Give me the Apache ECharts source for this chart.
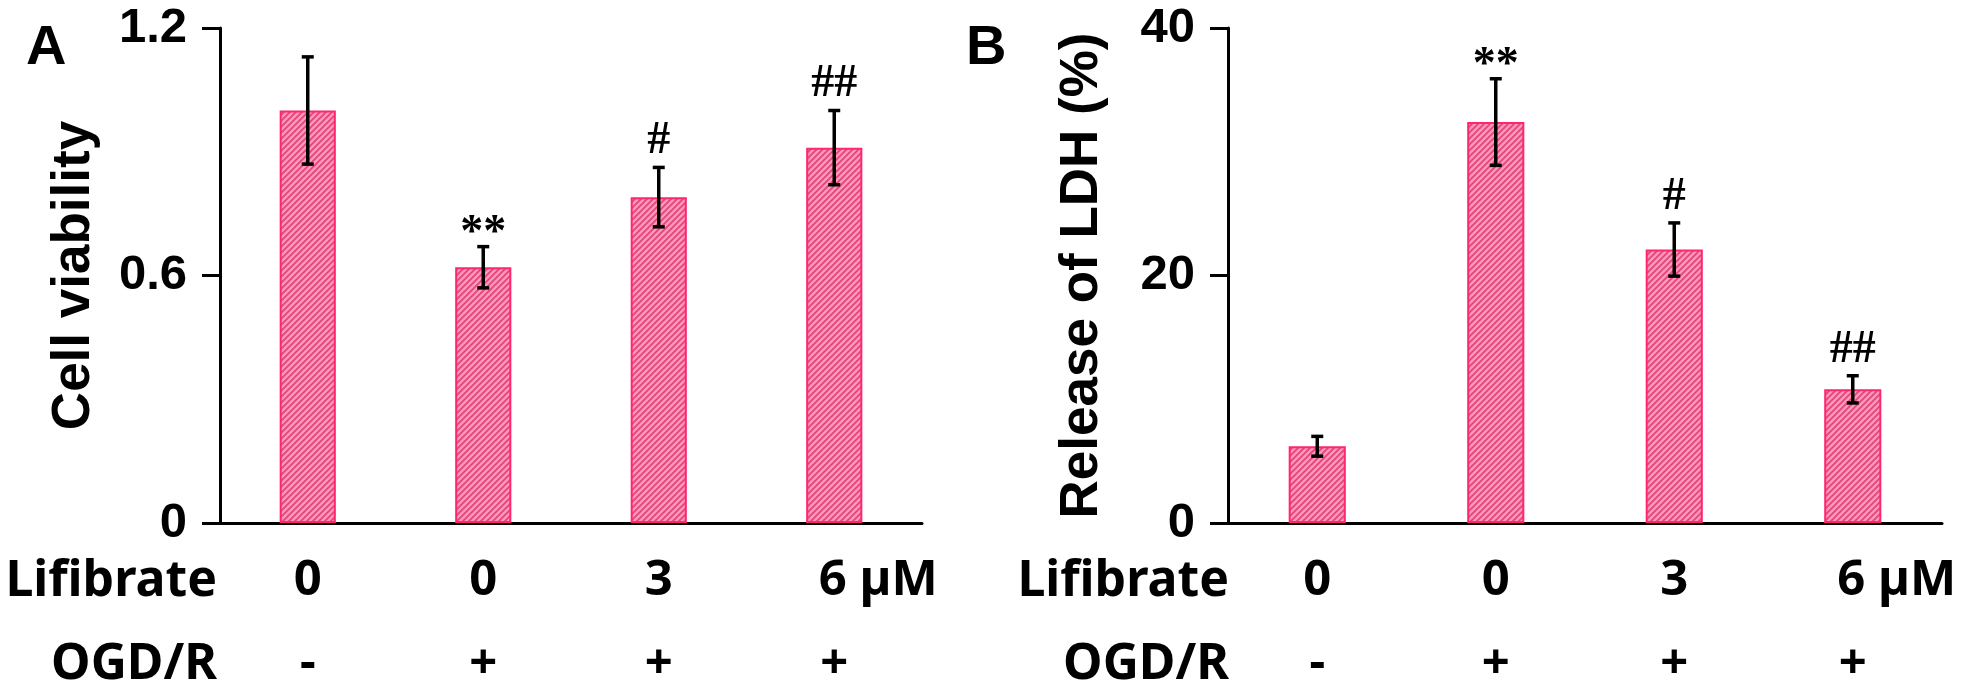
<!DOCTYPE html>
<html><head><meta charset="utf-8">
<script src="https://cdn.jsdelivr.net/npm/echarts@6/dist/echarts.min.js"></script>
<style>html,body{margin:0;padding:0;background:#fff}#c{width:1965px;height:700px}</style>
</head><body><div id="c"></div>
<script>
// ---- data ----
const lifibrate = ['0', '0', '3', '6 µM'];
const ogdr = ['-', '+', '+', '+'];
const viabilityMean = [1.00, 0.62, 0.79, 0.91];
const viabilitySD = [0.13, 0.05, 0.072, 0.09];
const viabilitySig = ['', '**', '#', '##'];
const ldhMean = [6.2, 32.4, 22.1, 10.8];
const ldhSD = [0.8, 3.5, 2.15, 1.1];
const ldhSig = ['', '**', '#', '##'];
const viabilityAxis = { min: 0, max: 1.2, interval: 0.6 };
const ldhAxis = { min: 0, max: 40, interval: 20 };

// ---- style helpers ----
function makePattern() {
  const s = 6, c = document.createElement('canvas');
  c.width = s; c.height = s;
  const g = c.getContext('2d');
  g.fillStyle = '#f79bb8'; g.fillRect(0, 0, s, s);
  g.strokeStyle = '#e8417a'; g.lineWidth = 1.7;
  g.beginPath();
  g.moveTo(0, s); g.lineTo(s, 0);
  g.moveTo(-s / 2, s / 2); g.lineTo(s / 2, -s / 2);
  g.moveTo(s / 2, s * 1.5); g.lineTo(s * 1.5, s / 2);
  g.stroke();
  return c;
}
const pattern = { image: makePattern(), repeat: 'repeat' };
const BLACK = '#000';
const labelFont = 'Noto Sans';
const sansFont = 'Liberation Sans';

function errRender(sig) {
  return function (params, api) {
    const i = api.value(0);
    const top = api.coord([i, api.value(1)]);
    const bot = api.coord([i, api.value(2)]);
    const x = top[0], cap = 6;
    const ls = { stroke: BLACK, lineWidth: 3.5 };
    const children = [
      { type: 'line', shape: { x1: x, y1: top[1], x2: x, y2: bot[1] }, style: ls },
      { type: 'line', shape: { x1: x - cap, y1: top[1], x2: x + cap, y2: top[1] }, style: ls },
      { type: 'line', shape: { x1: x - cap, y1: bot[1], x2: x + cap, y2: bot[1] }, style: ls }
    ];
    const t = sig[i];
    if (t) {
      const off = t.indexOf('*') >= 0 ? 10 : -3;
      children.push({
        type: 'text', x: x, y: top[1] + off,
        style: { text: t, fontSize: 46, fontWeight: 'bold', fontFamily: 'Liberation Serif', align: 'center', verticalAlign: 'bottom', fill: BLACK }
      });
    }
    return { type: 'group', children: children };
  };
}

function xAxisCfg(gi) {
  const rs = { fontSize: 49, fontWeight: 'bold', fontFamily: labelFont, color: BLACK, lineHeight: 83 };
  return {
    gridIndex: gi, type: 'category', data: lifibrate,
    axisLine: { lineStyle: { color: BLACK, width: 3 } },
    axisTick: { length: 10, lineStyle: { color: BLACK, width: 3 } },
    axisLabel: {
      margin: 17, interval: 0,
      formatter: function (v, i) {
        const pre = v.indexOf(' ') >= 0 ? '{sp| }' : '';
        return pre + '{a|' + v + '}\n{b|' + ogdr[i] + '}';
      },
      rich: { a: rs, b: rs, sp: { width: 88, fontSize: 49, lineHeight: 83 } }
    }
  };
}
function yAxisCfg(gi, ax, name) {
  return {
    gridIndex: gi, type: 'value', min: ax.min, max: ax.max, interval: ax.interval,
    axisLine: { show: true, lineStyle: { color: BLACK, width: 3 } },
    axisTick: { show: true, length: 18, lineStyle: { color: BLACK, width: 3 } },
    splitLine: { show: false },
    axisLabel: { margin: 33, fontSize: 49, fontWeight: 'bold', fontFamily: sansFont, color: BLACK },
    name: name, nameLocation: 'middle', nameGap: 119,
    nameTextStyle: { fontSize: 53, fontWeight: 'bold', fontFamily: sansFont, color: BLACK }
  };
}
function barSeries(gi, vals) {
  return {
    type: 'bar', xAxisIndex: gi, yAxisIndex: gi, data: vals, barWidth: '32%',
    itemStyle: { color: pattern, borderColor: '#ff2670', borderWidth: 2 }, z: 2
  };
}
function errSeries(gi, mean, sd, sig) {
  return {
    type: 'custom', xAxisIndex: gi, yAxisIndex: gi, z: 5,
    data: mean.map((m, i) => [i, m + sd[i], m - sd[i]]),
    renderItem: errRender(sig)
  };
}
function headerText(x, y, t) {
  return { type: 'text', x: x, y: y, style: { text: t, align: 'right', verticalAlign: 'middle', fontSize: 50, fontWeight: 'bold', fontFamily: labelFont, fill: BLACK } };
}
function panelText(x, y, t) {
  return { type: 'text', x: x, y: y, style: { text: t, align: 'left', verticalAlign: 'top', fontSize: 56, fontWeight: 'bold', fontFamily: sansFont, fill: BLACK } };
}

const chart = echarts.init(document.getElementById('c'), null, { renderer: 'canvas' });
chart.setOption({
  animation: false,
  backgroundColor: '#fff',
  grid: [
    { left: 220, top: 28, width: 702, height: 495 },
    { left: 1228, top: 28, width: 714, height: 495 }
  ],
  xAxis: [xAxisCfg(0), xAxisCfg(1)],
  yAxis: [yAxisCfg(0, viabilityAxis, 'Cell viability'), yAxisCfg(1, ldhAxis, 'Release of LDH (%)')],
  series: [
    barSeries(0, viabilityMean), errSeries(0, viabilityMean, viabilitySD, viabilitySig),
    barSeries(1, ldhMean), errSeries(1, ldhMean, ldhSD, ldhSig)
  ],
  graphic: [
    panelText(26, 21, 'A'), panelText(966, 21, 'B'),
    headerText(217, 582, 'Lifibrate'), headerText(217, 665, 'OGD/R'),
    headerText(1229, 582, 'Lifibrate'), headerText(1229, 665, 'OGD/R')
  ]
});
</script>
</body></html>
